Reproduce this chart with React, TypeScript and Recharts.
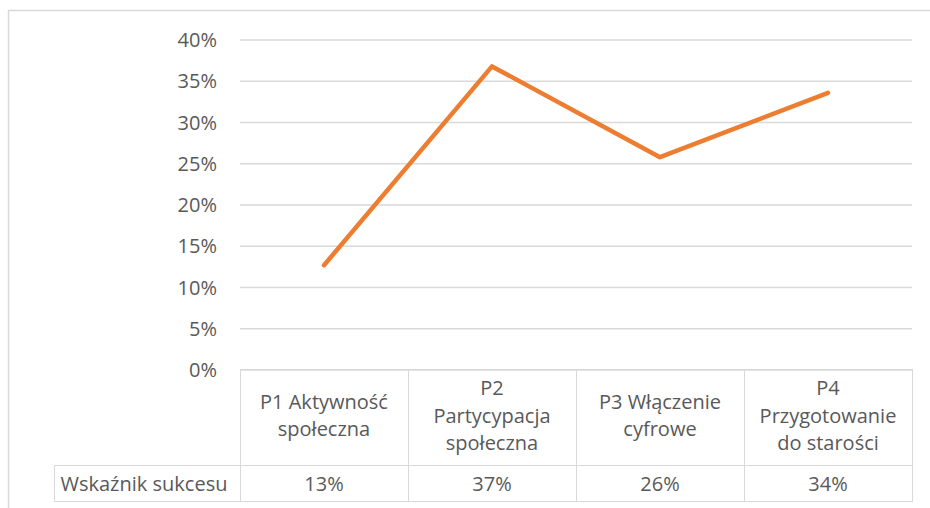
import { LineChart, Line, XAxis, YAxis, CartesianGrid } from "recharts"

const categoryLines = [
  ["P1 Aktywność", "społeczna"],
  ["P2", "Partycypacja", "społeczna"],
  ["P3 Włączenie", "cyfrowe"],
  ["P4", "Przygotowanie", "do starości"],
]
const successRates = [0.127, 0.368, 0.258, 0.336]
const yTicks = [0, 0.05, 0.1, 0.15, 0.2, 0.25, 0.3, 0.35, 0.4]
const rowTitle = "Wskaźnik sukcesu"

const data = categoryLines.map((lines, i) => ({ name: lines.join(" "), value: successRates[i] }))

const FONT = "'Open Sans', sans-serif"
const TEXT = "#595959"
const BORDER = "#d9d9d9"
const CELL_W = 168
const HEAD_W = 186
const LABEL_H = 96
const VALUE_H = 36

const pct = (v: number) => Math.round(v * 100) + "%"

function TableTick(props: any) {
  const { x, y, index } = props
  const lines = categoryLines[index] || []
  const left = Math.round(x - CELL_W / 2) + 0.5
  const top = Math.round(y) - 0.5
  const mid = top + 46
  const lh = 27.5
  return (
    <g>
      <rect x={left} y={top} width={CELL_W} height={LABEL_H} fill="none" stroke={BORDER} />
      <rect x={left} y={top + LABEL_H} width={CELL_W} height={VALUE_H} fill="none" stroke={BORDER} />
      {lines.map((t, i) => (
        <text key={i} x={x} y={mid + (i - (lines.length - 1) / 2) * lh} dy="0.35em"
          textAnchor="middle" fill={TEXT} fontSize={20} fontFamily={FONT}>{t}</text>
      ))}
      <text x={x} y={top + LABEL_H + VALUE_H / 2} dy="0.35em" textAnchor="middle"
        fill={TEXT} fontSize={20} fontFamily={FONT}>{pct(successRates[index])}</text>
      {index === 0 && (
        <g>
          <rect x={left - HEAD_W} y={top + LABEL_H} width={HEAD_W} height={VALUE_H} fill="none" stroke={BORDER} />
          <text x={left - HEAD_W + 6} y={top + LABEL_H + VALUE_H / 2} dy="0.35em" textAnchor="start"
            fill={TEXT} fontSize={20} fontFamily={FONT}>{rowTitle}</text>
        </g>
      )}
    </g>
  )
}

export default function App() {
  return (
    <div style={{ position: "absolute", left: 0, top: 0, width: 930, height: 508, background: "#fff" }}>
      <svg width={930} height={508} style={{ position: "absolute", left: 0, top: 0 }}>
        <rect x={8.5} y={10.5} width={1000} height={1000} fill="none" stroke={BORDER} strokeWidth={1.5} />
      </svg>
      <div style={{ position: "absolute", left: 0, top: 0 }}>
        <LineChart width={930} height={508} data={data} margin={{ top: 40, right: 18, bottom: 0, left: 0 }}>
          <CartesianGrid horizontal vertical={false} stroke={BORDER} strokeWidth={1.5} />
          <XAxis dataKey="name" height={138} axisLine={false} tickLine={false} tickSize={0} tickMargin={0}
            padding={{ left: 84, right: 84 }} interval={0} tick={<TableTick />} />
          <YAxis width={240} domain={[0, 0.4]} ticks={yTicks} tickFormatter={pct} axisLine={false}
            tickLine={false} tickSize={0} tickMargin={23}
            tick={{ fill: TEXT, fontSize: 20, fontFamily: FONT }} />
          <Line dataKey="value" stroke="#ED7D31" strokeWidth={4.5} dot={false} strokeLinecap="round"
            strokeLinejoin="round" isAnimationActive={false} />
        </LineChart>
      </div>
    </div>
  )
}
